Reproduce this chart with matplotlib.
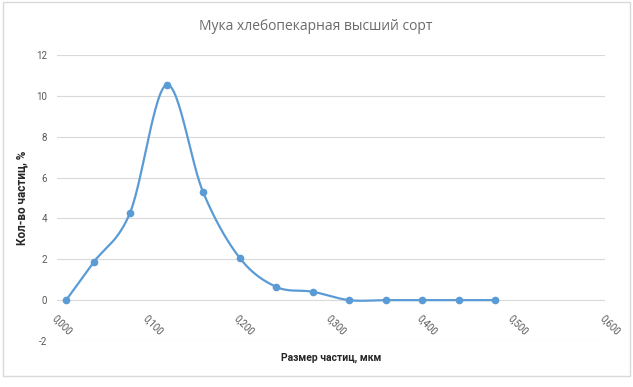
import numpy as np
import matplotlib
matplotlib.use("Agg")
import matplotlib.pyplot as plt
from matplotlib.patches import Rectangle

plt.rcParams["axes.unicode_minus"] = False

# particle size, mkm / share of particles, %
size_mkm = [0.01, 0.04, 0.08, 0.12, 0.16, 0.20, 0.24, 0.28, 0.32, 0.36, 0.40, 0.44, 0.48]
share_pct = [0.0, 1.85, 4.28, 10.54, 5.28, 2.07, 0.65, 0.41, 0.0, 0.0, 0.0, 0.0, 0.0]

x_ticks = [0.0, 0.1, 0.2, 0.3, 0.4, 0.5, 0.6]
x_labels = ["0,000", "0,100", "0,200", "0,300", "0,400", "0,500", "0,600"]
y_ticks = [-2, 0, 2, 4, 6, 8, 10, 12]

blue = "#5b9bd5"
grey = "#595959"


def smooth(xs, ys, n=30):
    # excel-like smoothed line: bezier with control points from neighbours
    p = np.column_stack([xs, ys]).astype(float)
    ext = np.vstack([p[0], p, p[-1]])
    out = []
    t = np.linspace(0, 1, n)[:, None]
    for i in range(len(p) - 1):
        p0, p1 = ext[i + 1], ext[i + 2]
        c1 = p0 + (ext[i + 2] - ext[i]) / 6
        c2 = p1 - (ext[i + 3] - ext[i + 1]) / 6
        seg = ((1 - t) ** 3) * p0 + 3 * ((1 - t) ** 2) * t * c1 + 3 * (1 - t) * t ** 2 * c2 + t ** 3 * p1
        out.append(seg)
    out = np.vstack(out)
    return out[:, 0], out[:, 1]


fig = plt.figure(figsize=(6.33, 3.87), dpi=100)
fig.patches.append(Rectangle((3 / 633, 1 - 376 / 387), 627 / 633, 374 / 387,
                             transform=fig.transFigure, fill=False,
                             edgecolor="#d9d9d9", linewidth=1))
ax = fig.add_axes([57 / 633, 1 - 341 / 387, 548 / 633, 286 / 387])

for s in ax.spines.values():
    s.set_visible(False)
ax.spines["bottom"].set_position(("data", 0))

sx, sy = smooth(size_mkm, share_pct)
ax.plot(sx, sy, color=blue, linewidth=1.6, zorder=3)
ax.plot(size_mkm, share_pct, "o", color=blue, markersize=4.5, zorder=4)

ax.set_xlim(0, 0.6)
ax.set_ylim(-2, 12)
ax.set_yticks(y_ticks)
ax.set_xticks(x_ticks)
ax.grid(axis="y", color="#d9d9d9", linewidth=0.8)
ax.set_axisbelow(True)
ax.tick_params(axis="both", length=0, labelsize=7, labelcolor=grey)
ax.tick_params(axis="x", pad=9)
ax.tick_params(axis="y", pad=7)
ax.set_xticklabels(x_labels, family="Roboto")
for lab in ax.get_xticklabels():
    lab.set_rotation(-45)
    lab.set_ha("left")
    lab.set_va("top")
    lab.set_rotation_mode("anchor")
for lab in ax.get_yticklabels():
    lab.set_family("Roboto")

fig.text(316 / 633, 1 - 27 / 387, "Мука хлебопекарная высший сорт",
         ha="center", va="center", fontsize=10, color="#6b6b6b", family="Open Sans")
fig.text(331 / 633, 1 - 358 / 387, "Размер частиц, мкм", ha="center", va="center",
         fontsize=7.5, fontweight="bold", family="Roboto", color="#262626")
fig.text(22 / 633, 1 - 198 / 387, "Кол-во частиц, %", ha="center", va="center",
         rotation=90, fontsize=8.5, fontweight="bold", family="Roboto", color="#262626")

fig.savefig("out.png", dpi=100)
plt.close(fig)
